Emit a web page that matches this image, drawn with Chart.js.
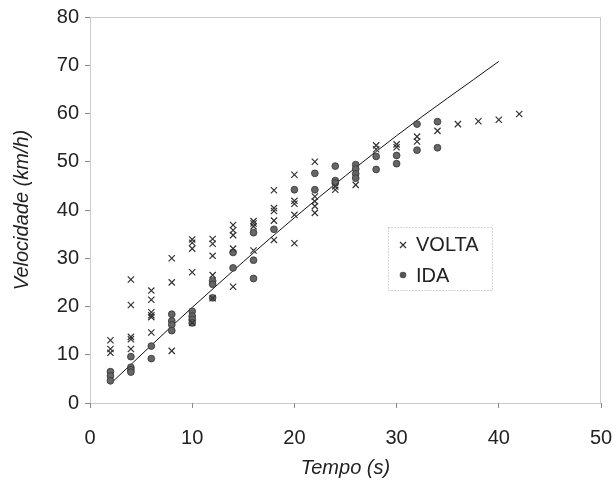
<!DOCTYPE html>
<html>
<head>
<meta charset="utf-8">
<script src="https://cdn.jsdelivr.net/npm/chart.js@4.4.1/dist/chart.umd.min.js"></script>
<style>
  html, body { margin: 0; padding: 0; background: #fff; }
</style>
</head>
<body>
<canvas id="velChart" width="613" height="483"></canvas>
<script>
// VOLTA run (crosses)
const voltaTempo = [2,2,2, 4,4,4,4,4, 6,6,6,6,6,6, 8,8,8, 10,10,10,10,10, 12,12,12,12,12,
  14,14,14,14,14, 16,16,16,16, 18,18,18,18,18, 20,20,20,20,20, 22,22,22,22,22,
  24,24, 26, 28,28, 30,30, 32,32, 34, 36, 38, 40, 42];
const voltaVel = [13.0,11.2,10.4, 25.6,20.3,13.7,13.2,11.2, 23.3,21.4,18.8,18.2,17.8,14.6,
  30.0,25.0,10.8, 33.9,33.2,32.0,27.1,16.6, 34.0,33.0,30.5,26.5,21.7,
  36.9,35.8,34.8,32.0,24.1, 37.7,37.2,36.6,31.6, 44.1,40.4,39.8,37.8,33.8,
  47.3,41.9,41.3,39.0,33.1, 50.0,42.8,41.8,40.8,39.4,
  44.9,44.2, 45.2, 53.4,52.6, 53.6,53.0, 55.2,54.2, 56.4, 57.8, 58.4, 58.7, 59.9];

// IDA run (dots)
const idaTempo = [2,2,2, 4,4,4,4, 6,6, 8,8,8,8, 10,10,10,10, 12,12,12, 14,14, 16,16,16,
  18, 20, 22,22, 24,24,24, 26,26,26,26, 28,28, 30,30, 32,32, 34,34];
const idaVel = [6.5,5.6,4.6, 9.6,7.4,6.9,6.4, 11.8,9.2, 18.4,17.0,16.2,15.0,
  19.0,18.0,17.3,16.6, 25.3,24.6,21.8, 31.2,28.0, 35.3,29.6,25.8,
  36.0, 44.2, 47.6,44.2, 49.1,46.1,45.6, 49.4,48.5,47.5,46.6, 51.1,48.4, 51.3,49.6, 57.8,52.4, 58.3,52.9];

// fitted curve
const trendTempo = [2, 10, 20, 30, 40];
const trendVel = [4.0, 19.8, 38.4, 55.4, 70.8];

const xTicks = [0, 10, 20, 30, 40, 50];
const yTicks = [0, 10, 20, 30, 40, 50, 60, 70, 80];

const toPoints = (xs, ys) => xs.map((x, i) => ({ x: x, y: ys[i] }));

const FONT = "'Liberation Sans', Arial, sans-serif";
const INK = "#222";

// dotted frame around the plot area
const frame = {
  id: "frame",
  beforeDatasetsDraw(chart) {
    const { ctx, chartArea: a } = chart;
    ctx.save();
    ctx.strokeStyle = "#999";
    ctx.lineWidth = 1;
    ctx.setLineDash([1, 1]);
    ctx.strokeRect(a.left + 0.5, a.top + 0.5, a.right - a.left - 1, a.bottom - a.top);
    ctx.restore();
  }
};

// boxed legend inside the plot
const boxLegend = {
  id: "boxLegend",
  afterDraw(chart) {
    const { ctx } = chart;
    const bx = 388, by = 227, bw = 104, bh = 63;
    ctx.save();
    ctx.strokeStyle = "#aaa";
    ctx.lineWidth = 1;
    ctx.setLineDash([1, 2]);
    ctx.strokeRect(bx + 0.5, by + 0.5, bw, bh);
    ctx.setLineDash([]);

    // cross
    ctx.strokeStyle = "#333";
    ctx.lineWidth = 1.2;
    ctx.beginPath();
    ctx.moveTo(400, 242); ctx.lineTo(406, 248);
    ctx.moveTo(406, 242); ctx.lineTo(400, 248);
    ctx.stroke();

    // dot
    ctx.fillStyle = "#555";
    ctx.beginPath();
    ctx.arc(403, 275, 3.3, 0, Math.PI * 2);
    ctx.fill();

    ctx.fillStyle = INK;
    ctx.font = "20px " + FONT;
    ctx.textBaseline = "middle";
    ctx.fillText("VOLTA", 416, 245);
    ctx.fillText("IDA", 416, 276);
    ctx.restore();
  }
};

new Chart(document.getElementById("velChart"), {
  type: "scatter",
  data: {
    datasets: [
      {
        label: "VOLTA",
        data: toPoints(voltaTempo, voltaVel),
        pointStyle: "crossRot",
        pointRadius: 4.4,
        pointBorderWidth: 1.2,
        borderColor: "#333",
        backgroundColor: "#333"
      },
      {
        label: "IDA",
        data: toPoints(idaTempo, idaVel),
        pointStyle: "circle",
        pointRadius: 3.4,
        pointBorderWidth: 0.8,
        borderColor: "#333",
        backgroundColor: "#666"
      },
      {
        label: "ajuste",
        type: "line",
        data: toPoints(trendTempo, trendVel),
        borderColor: "#111",
        borderWidth: 1,
        pointRadius: 0,
        cubicInterpolationMode: "monotone",
        fill: false
      }
    ]
  },
  options: {
    responsive: false,
    animation: false,
    layout: { padding: { top: 17, right: 0, left: 0, bottom: 0 } },
    plugins: {
      legend: { display: false },
      tooltip: { enabled: false }
    },
    scales: {
      x: {
        type: "linear",
        min: 0,
        max: 50,
        afterFit: s => { s.height = 80; s.paddingRight = 12; s.paddingLeft = 0; },
        afterBuildTicks: s => { s.ticks = xTicks.map(v => ({ value: v })); },
        grid: { drawOnChartArea: false, tickLength: 5, color: "#888" },
        border: { display: false },
        ticks: { color: INK, font: { family: FONT, size: 20 }, padding: 18, maxRotation: 0 },
        title: {
          display: true,
          text: "Tempo (s)",
          color: INK,
          font: { family: FONT, size: 20, style: "italic" },
          padding: { bottom: 3 }
        }
      },
      y: {
        type: "linear",
        min: 0,
        max: 80,
        afterFit: s => { s.width = 90; s.paddingTop = 0; s.paddingBottom = 0; },
        afterBuildTicks: s => { s.ticks = yTicks.map(v => ({ value: v })); },
        grid: { drawOnChartArea: false, tickLength: 5, color: "#888" },
        border: { display: false },
        ticks: { color: INK, font: { family: FONT, size: 20 }, padding: 6 },
        title: {
          display: true,
          text: "Velocidade (km/h)",
          color: INK,
          font: { family: FONT, size: 20, style: "italic" },
          padding: { top: 10 }
        }
      }
    }
  },
  plugins: [frame, boxLegend]
});
</script>
</body>
</html>
